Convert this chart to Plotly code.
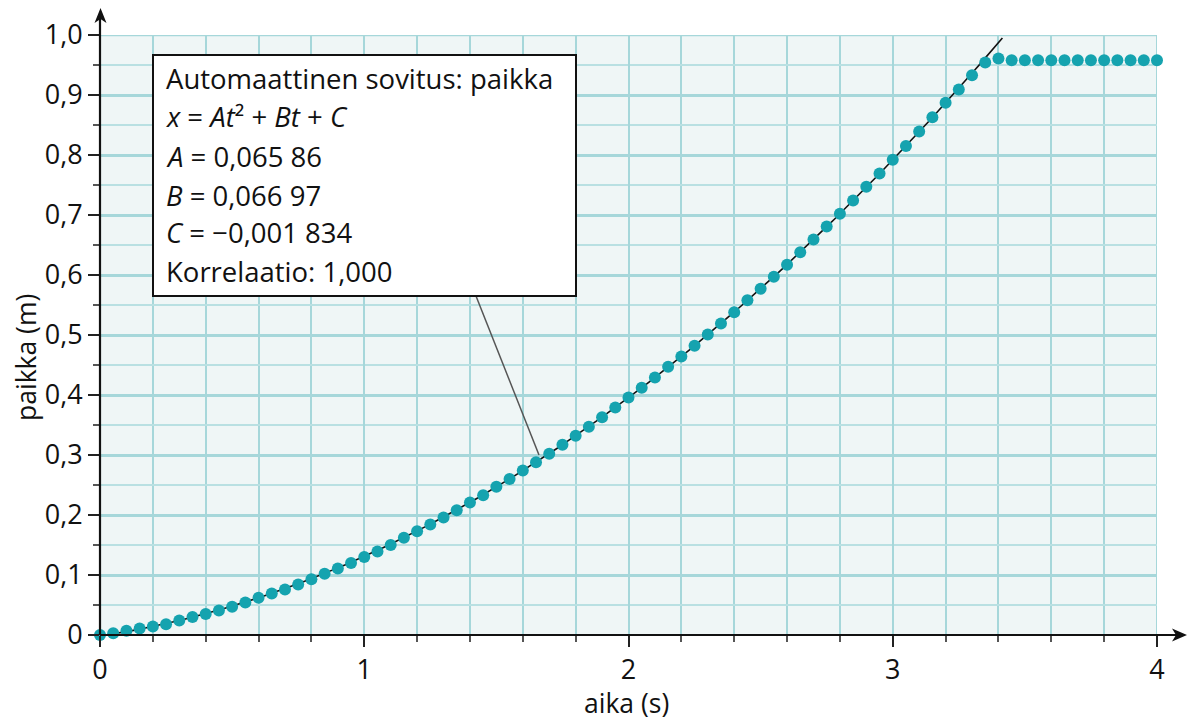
import plotly.graph_objects as go

# Measured cart position (m) against time (s)
t_s = [0.00, 0.05, 0.10, 0.15, 0.20, 0.25, 0.30, 0.35, 0.40, 0.45,
       0.50, 0.55, 0.60, 0.65, 0.70, 0.75, 0.80, 0.85, 0.90, 0.95,
       1.00, 1.05, 1.10, 1.15, 1.20, 1.25, 1.30, 1.35, 1.40, 1.45,
       1.50, 1.55, 1.60, 1.65, 1.70, 1.75, 1.80, 1.85, 1.90, 1.95,
       2.00, 2.05, 2.10, 2.15, 2.20, 2.25, 2.30, 2.35, 2.40, 2.45,
       2.50, 2.55, 2.60, 2.65, 2.70, 2.75, 2.80, 2.85, 2.90, 2.95,
       3.00, 3.05, 3.10, 3.15, 3.20, 3.25, 3.30, 3.35, 3.40, 3.45,
       3.50, 3.55, 3.60, 3.65, 3.70, 3.75, 3.80, 3.85, 3.90, 3.95,
       4.00]
x_m = [0.000, 0.003, 0.007, 0.011, 0.014, 0.018, 0.024, 0.030, 0.035, 0.041,
       0.047, 0.054, 0.062, 0.069, 0.076, 0.084, 0.093, 0.102, 0.111, 0.120,
       0.130, 0.139, 0.150, 0.162, 0.173, 0.184, 0.196, 0.208, 0.221, 0.233,
       0.247, 0.260, 0.274, 0.288, 0.302, 0.317, 0.332, 0.347, 0.363, 0.379,
       0.396, 0.412, 0.429, 0.447, 0.464, 0.482, 0.501, 0.519, 0.538, 0.558,
       0.577, 0.597, 0.617, 0.638, 0.659, 0.681, 0.702, 0.724, 0.747, 0.769,
       0.792, 0.815, 0.839, 0.863, 0.887, 0.909, 0.933, 0.954, 0.961, 0.958,
       0.958, 0.958, 0.958, 0.958, 0.958, 0.958, 0.958, 0.958, 0.958, 0.958,
       0.958]

# Quadratic fit parameters x = A t^2 + B t + C
A = 0.06586
B = 0.06697
C = -0.001834
fit_t_end = 3.415

x_tickvals = [0, 1, 2, 3, 4]
x_ticktext = ["0", "1", "2", "3", "4"]
y_tickvals = [0, 0.1, 0.2, 0.3, 0.4, 0.5, 0.6, 0.7, 0.8, 0.9, 1.0]
y_ticktext = ["0", "0,1", "0,2", "0,3", "0,4", "0,5", "0,6", "0,7", "0,8", "0,9", "1,0"]

box_lines = [
    "Automaattinen sovitus: paikka",
    "<i>x</i> = <i>At</i>² + <i>Bt</i> + <i>C</i>",
    "<i>A</i> = 0,065 86",
    "<i>B</i> = 0,066 97",
    "<i>C</i> = −0,001 834",
    "Korrelaatio: 1,000",
]
x_title = "aika (s)"
y_title = "paikka (m)"

FONT = "Open Sans, Noto Sans, sans-serif"
TEAL = "#15a3af"
GRID = "#a6d7da"
GRID_MINOR = "#b9e0e2"
INK = "#111111"

W, H = 1187, 722
L, R, T, Bm = 100, 30, 35, 87
PW, PH = W - L - R, H - T - Bm


def px_x(p):
    return (p - L) / PW


def px_y(p):
    return (H - Bm - p) / PH


n_fit = 200
fit_t = [fit_t_end * i / (n_fit - 1) for i in range(n_fit)]
fit_x = [A * t * t + B * t + C for t in fit_t]

fig = go.Figure()
fig.add_trace(go.Scatter(x=fit_t, y=fit_x, mode="lines",
                         line=dict(color=INK, width=1.6),
                         cliponaxis=False, hoverinfo="skip"))
fig.add_trace(go.Scatter(x=t_s, y=x_m, mode="markers",
                         marker=dict(color=TEAL, size=12, line=dict(width=0)),
                         cliponaxis=False))

shapes = []
# bounding grid lines at the far ends
shapes.append(dict(type="line", xref="x", yref="y", x0=0, x1=4, y0=1, y1=1,
                   line=dict(color=GRID, width=2.5), layer="below"))
shapes.append(dict(type="line", xref="x", yref="y", x0=4, x1=4, y0=0, y1=1,
                   line=dict(color=GRID, width=2), layer="below"))

# axis lines with arrowheads
shapes.append(dict(type="line", xref="paper", yref="paper",
                   x0=0, x1=px_x(1178), y0=0, y1=0,
                   line=dict(color=INK, width=2.2)))
shapes.append(dict(type="line", xref="paper", yref="paper",
                   x0=0, x1=0, y0=0, y1=px_y(16),
                   line=dict(color=INK, width=2.2)))
tip_x, tip_y = 1187, 635
shapes.append(dict(type="path", xref="paper", yref="paper",
                   path=(f"M {px_x(tip_x)} {px_y(tip_y)} "
                         f"L {px_x(tip_x - 15)} {px_y(tip_y - 6.5)} "
                         f"L {px_x(tip_x - 11)} {px_y(tip_y)} "
                         f"L {px_x(tip_x - 15)} {px_y(tip_y + 6.5)} Z"),
                   fillcolor=INK, line=dict(width=0)))
tip_x, tip_y = 100.5, 8
shapes.append(dict(type="path", xref="paper", yref="paper",
                   path=(f"M {px_x(tip_x)} {px_y(tip_y)} "
                         f"L {px_x(tip_x - 6)} {px_y(tip_y + 15)} "
                         f"L {px_x(tip_x)} {px_y(tip_y + 11)} "
                         f"L {px_x(tip_x + 6)} {px_y(tip_y + 15)} Z"),
                   fillcolor=INK, line=dict(width=0)))

# callout box and pointer
shapes.append(dict(type="line", xref="paper", yref="paper",
                   x0=px_x(476), y0=px_y(296), x1=px_x(539), y1=px_y(455),
                   line=dict(color="#555555", width=1.5)))
shapes.append(dict(type="rect", xref="paper", yref="paper",
                   x0=px_x(153), x1=px_x(576), y0=px_y(296), y1=px_y(55),
                   fillcolor="white", line=dict(color=INK, width=2)))

annotations = []
line_y = [78, 116, 156, 195, 233, 271]
for txt, yc in zip(box_lines, line_y):
    annotations.append(dict(xref="paper", yref="paper", x=px_x(164), y=px_y(yc),
                            text=txt, showarrow=False, xanchor="left",
                            yanchor="middle",
                            font=dict(family=FONT, size=27.5, color=INK)))

# axis titles
annotations.append(dict(xref="paper", yref="paper", x=px_x(626), y=px_y(703),
                        text=x_title, showarrow=False, xanchor="center",
                        yanchor="middle",
                        font=dict(family=FONT, size=26.5, color=INK)))
annotations.append(dict(xref="paper", yref="paper", x=px_x(26), y=px_y(358),
                        text=y_title, showarrow=False, xanchor="center",
                        yanchor="middle", textangle=-90,
                        font=dict(family=FONT, size=26.5, color=INK)))

fig.update_layout(
    width=W, height=H,
    margin=dict(l=L, r=R, t=T, b=Bm, pad=0),
    paper_bgcolor="white",
    plot_bgcolor="#eff6f6",
    showlegend=False,
    shapes=shapes,
    annotations=annotations,
    font=dict(family=FONT, size=26, color=INK),
    xaxis=dict(
        range=[0, 4], tickvals=x_tickvals, ticktext=x_ticktext,
        showgrid=True, gridcolor=GRID, gridwidth=2,
        ticks="outside", ticklen=11, tickwidth=2, tickcolor="#222222",
        showline=False, zeroline=False,
        tickfont=dict(family=FONT, size=27, color=INK),
        minor=dict(dtick=0.2, tick0=0, showgrid=True, gridcolor=GRID,
                   gridwidth=1.6, ticks="outside", ticklen=6, tickwidth=1.5,
                   tickcolor="#555555"),
        fixedrange=True,
    ),
    yaxis=dict(
        range=[0, 1], tickvals=y_tickvals, ticktext=y_ticktext,
        showgrid=True, gridcolor=GRID, gridwidth=2.6,
        ticks="outside", ticklen=11, tickwidth=2, tickcolor="#222222",
        showline=False, zeroline=False,
        tickfont=dict(family=FONT, size=27, color=INK),
        minor=dict(dtick=0.05, tick0=0, showgrid=True, gridcolor=GRID_MINOR,
                   gridwidth=1.6, ticks="outside", ticklen=6, tickwidth=1.5,
                   tickcolor="#555555"),
        fixedrange=True,
    ),
)

fig.write_html("out.html")
